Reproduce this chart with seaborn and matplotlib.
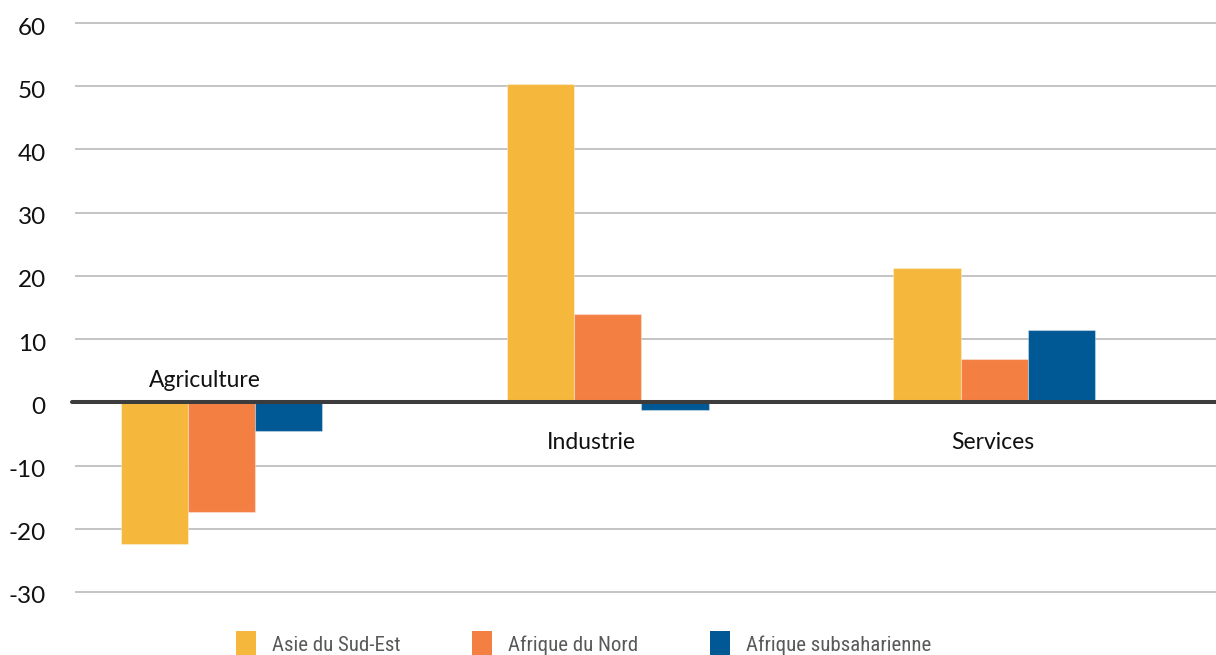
import matplotlib
matplotlib.use("Agg")
import matplotlib.pyplot as plt
import seaborn as sns
import pandas as pd
from matplotlib import font_manager as fm
from matplotlib.patches import Patch
from matplotlib.transforms import ScaledTranslation

# ---- data ----
categories = ["Agriculture", "Industrie", "Services"]
series = ["Asie du Sud-Est", "Afrique du Nord", "Afrique subsaharienne"]
asie_sud_est = [-22.4, 50.4, 21.2]
afrique_nord = [-17.3, 14.0, 6.9]
afrique_subsaharienne = [-4.6, -1.2, 11.5]
y_ticks = [-30, -20, -10, 0, 10, 20, 30, 40, 50, 60]

colors = ["#F5B83D", "#F47F43", "#005895"]

sns.set_theme(style="white")
plt.rcParams["font.family"] = ["Lato", "DejaVu Sans"]

names = {f.name for f in fm.fontManager.ttflist}
narrow = None
for n in ["Liberation Sans Narrow", "Roboto Condensed", "DejaVu Sans Condensed",
          "Open Sans Condensed", "Noto Sans Condensed"]:
    if n in names:
        narrow = n
        break
legend_family = [narrow, "DejaVu Sans"] if narrow else ["Lato", "DejaVu Sans"]
legend_size = 15 if narrow else 14

df = pd.DataFrame({
    "Secteur": categories * 3,
    "Région": [s for s in series for _ in categories],
    "Valeur": asie_sud_est + afrique_nord + afrique_subsaharienne,
})

fig = plt.figure(figsize=(12.16, 6.55), dpi=100)
ax = fig.add_axes([0.0617, 0.0866, 0.9383, 0.8879])

sns.barplot(data=df, x="Secteur", y="Valeur", hue="Région",
            order=categories, hue_order=series, palette=colors,
            width=0.522, gap=0, saturation=1, errorbar=None,
            edgecolor=(1, 1, 1, 0.35), linewidth=0.8,
            legend=False, ax=ax)

ax.set_xlim(-0.379, 2.574)
ax.set_ylim(-31, 61)
ax.set_yticks(y_ticks)
ax.set_yticklabels([str(t) for t in y_ticks])
ax.set_xticks([])
ax.set_xlabel("")
ax.set_ylabel("")
for s in ax.spines.values():
    s.set_visible(False)
ax.yaxis.grid(True, color="#c4c4c4", lw=1.4)
ax.xaxis.grid(False)
ax.set_axisbelow(True)
ax.tick_params(axis="y", length=0, pad=21, labelsize=17.5, labelcolor="#111111")
off = ScaledTranslation(0, -3 / 100, fig.dpi_scale_trans)
for lab in ax.get_yticklabels():
    lab.set_transform(lab.get_transform() + off)

ax.axhline(0, xmin=-0.003, xmax=1, color="#3c3c3c", lw=2.9, zorder=5, clip_on=False)

# category labels
label_dx = [-0.043, -0.042, -0.005]
for i, cat in enumerate(categories):
    y = 2.45 if asie_sud_est[i] < 0 else -7.4
    ax.text(i + label_dx[i], y, cat, ha="center", va="baseline",
            fontsize=16.5, color="#111111", zorder=6)

handles = [Patch(facecolor=c, edgecolor="none", label=s) for c, s in zip(colors, series)]
leg = fig.legend(handles=handles, labels=series, loc="upper left",
                 bbox_to_anchor=(236 / 1216, 1 - 631 / 655), ncol=3, frameon=False,
                 handlelength=0.96, handleheight=1.6, handletextpad=0.77,
                 columnspacing=3.45, borderpad=0, borderaxespad=0,
                 prop={"family": legend_family, "size": legend_size},
                 labelcolor="#595959")

fig.savefig("out.png", dpi=100)
